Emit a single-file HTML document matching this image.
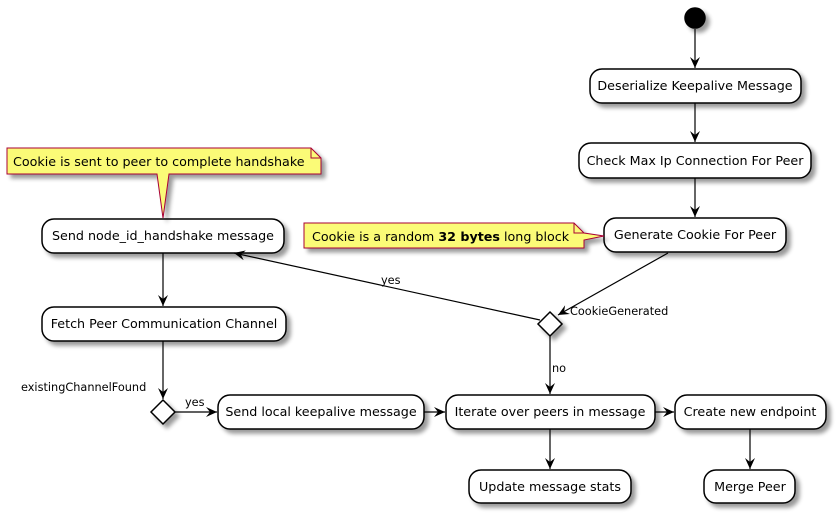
<!DOCTYPE html>
<html><head><style>
html,body{margin:0;padding:0;background:#fff;width:836px;height:513px;overflow:hidden}
text{font-family:"DejaVu Sans","Liberation Sans",sans-serif;font-size:12.7px;fill:#000}
.l{font-size:11.3px}
</style></head><body>
<svg width="836" height="513" viewBox="0 0 836 513" xmlns="http://www.w3.org/2000/svg">
<defs>
<filter id="sh" x="-10%" y="-20%" width="130%" height="160%"><feGaussianBlur in="SourceAlpha" stdDeviation="2"/><feOffset dx="4" dy="4"/><feComponentTransfer><feFuncA type="linear" slope="0.4"/></feComponentTransfer><feMerge><feMergeNode/><feMergeNode in="SourceGraphic"/></feMerge></filter>
<marker id="a" viewBox="0 0 12 10" refX="11" refY="5" markerWidth="12" markerHeight="10" orient="auto" markerUnits="userSpaceOnUse"><path d="M0,0 L11,5 L0,10 L4,5 Z" fill="#000"/></marker>
</defs>
<g stroke="#000" stroke-width="1.5" fill="#fff" filter="url(#sh)">
<circle cx="695" cy="18" r="10" fill="#000"/>
<rect x="590" y="69" width="211" height="34" rx="12"/>
<rect x="579" y="143" width="232" height="35" rx="12"/>
<rect x="604" y="218" width="182" height="34" rx="12"/>
<rect x="42" y="219" width="242" height="34" rx="12"/>
<rect x="42" y="307" width="244" height="34" rx="12"/>
<polygon points="550,312 562,324 550,336 538,324"/>
<polygon points="163,400 175,412 163,424 151,412"/>
<rect x="218" y="395" width="206" height="34" rx="12"/>
<rect x="446" y="395" width="209" height="34" rx="12"/>
<rect x="675" y="395" width="151" height="34" rx="12"/>
<rect x="469" y="470" width="162" height="33" rx="12"/>
<rect x="704" y="470" width="91" height="33" rx="12"/>
</g>
<g stroke="#A80036" stroke-width="1" fill="#FBFB77" filter="url(#sh)">
<path d="M7,148 L311,148 L321,158 L321,174 L169,174 L163,218 L157,174 L7,174 Z"/>
<path d="M304,223 L574,223 L584,233 L604,236 L584,240 L584,248 L304,248 Z"/>
</g>
<path d="M311,148 L311,158 L321,158" fill="none" stroke="#A80036"/>
<path d="M574,223 L574,233 L584,233" fill="none" stroke="#A80036"/>
<g stroke="#000" stroke-width="1.2" fill="none" marker-end="url(#a)">
<line x1="695" y1="29" x2="695" y2="68"/>
<line x1="695" y1="103" x2="695" y2="142"/>
<line x1="695" y1="178" x2="695" y2="217"/>
<line x1="668" y1="253" x2="558" y2="315"/>
<line x1="540" y1="320" x2="234" y2="253"/>
<line x1="550" y1="336" x2="550" y2="394"/>
<line x1="163" y1="253" x2="163" y2="306"/>
<line x1="163" y1="341" x2="163" y2="399"/>
<line x1="175" y1="412" x2="217" y2="412"/>
<line x1="424" y1="412" x2="445" y2="412"/>
<line x1="655" y1="412" x2="674" y2="412"/>
<line x1="550" y1="429" x2="550" y2="469"/>
<line x1="750" y1="429" x2="750" y2="469"/>
</g>
<text x="695" y="90" text-anchor="middle">Deserialize Keepalive Message</text>
<text x="695" y="165" text-anchor="middle">Check Max Ip Connection For Peer</text>
<text x="695" y="239" text-anchor="middle">Generate Cookie For Peer</text>
<text x="163" y="240" text-anchor="middle">Send node_id_handshake message</text>
<text x="164" y="328" text-anchor="middle">Fetch Peer Communication Channel</text>
<text x="321" y="416" text-anchor="middle">Send local keepalive message</text>
<text x="550" y="416" text-anchor="middle">Iterate over peers in message</text>
<text x="750" y="416" text-anchor="middle">Create new endpoint</text>
<text x="550" y="491" text-anchor="middle">Update message stats</text>
<text x="750" y="491" text-anchor="middle">Merge Peer</text>
<text x="13" y="166">Cookie is sent to peer to complete handshake</text>
<text x="312" y="241">Cookie is a random <tspan font-weight="bold">32 bytes</tspan> long block</text>
<text class="l" x="570" y="315">CookieGenerated</text>
<text class="l" x="381" y="284">yes</text>
<text class="l" x="552" y="372">no</text>
<text class="l" x="21" y="391">existingChannelFound</text>
<text class="l" x="185" y="406">yes</text>
</svg>
</body></html>
